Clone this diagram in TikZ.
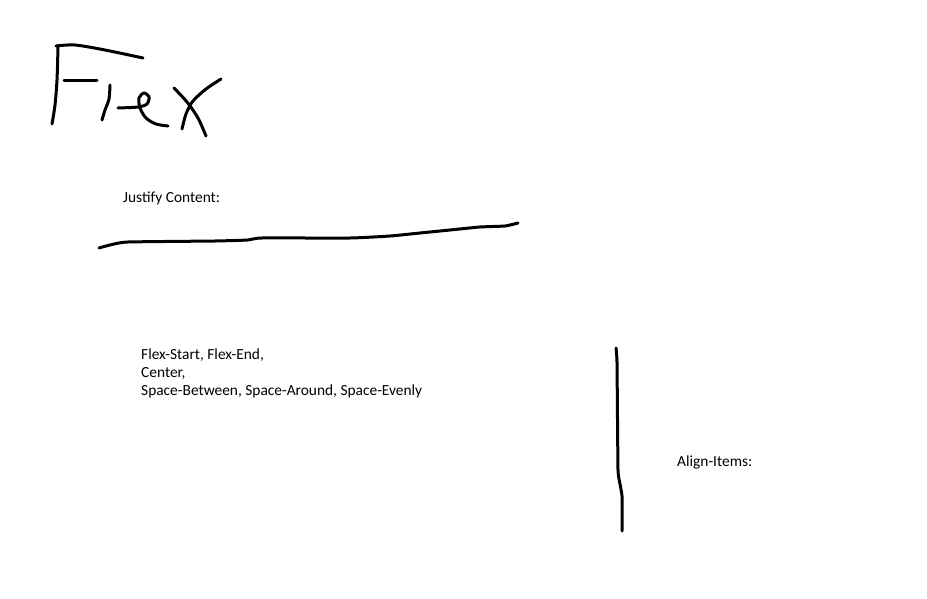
\documentclass[tikz,border=0pt]{standalone}
\usepackage{fontspec}
\setmainfont{Carlito}
\usepackage{tikz}
\usetikzlibrary{positioning}
\tikzset{%
  pen/.style   = {line width=3pt, line cap=round, line join=round},%
  label/.style = {anchor=base west, inner sep=0pt, align=left,%
                  font=\fontsize{15.4}{18}\selectfont}%
}
\begin{document}
\begin{tikzpicture}[x=1pt,y=-1pt]%
	\useasboundingbox (0,0) rectangle (927,599);%
	% hand written title
	\draw[pen] plot[smooth] coordinates {(56,46) (75,45) (105,50) (143,58)};%
	\draw[pen] plot[smooth] coordinates {(58,47) (57,80) (55,105) (52,124)};%
	\draw[pen] (64,81) -- (97,81);%
	\draw[pen] plot[smooth] coordinates {(110,85) (109,99) (105,110) (102,120)};%
	\draw[pen] plot[smooth] coordinates {(118,108) (138,107) (147,104) (149,97)%
		(144,93) (139,98) (140,108) (146,118) (156,124) (168,126)};%
	\draw[pen] plot[smooth] coordinates {(174,88) (187,102) (198,118) (206,136)};%
	\draw[pen] plot[smooth] coordinates {(221,79) (206,89) (193,101) (186,114) (182,129)};%
	% justify content
	\node[label] (jc) at (123,203) {Justify Content:};%
	\draw[pen] plot[smooth,tension=.3] coordinates {(99,248) (110,245) (128,242) (215,241)%
		(248,240) (262,238) (350,238) (390,236) (420,233) (450,230) (480,227)%
		(505,226) (518,223)};%
	\node[label] (vals) at (141,395) {Flex-Start, Flex-End,\\Center,\\%
		Space-Between, Space-Around, Space-Evenly};%
	% align items
	\draw[pen] plot[smooth,tension=.2] coordinates {(616,348) (617,362) (618,470)%
		(620,484) (622,496) (622,531)};%
	\node[label] (ai) at (677,466) {Align-Items:};%
\end{tikzpicture}
\end{document}
